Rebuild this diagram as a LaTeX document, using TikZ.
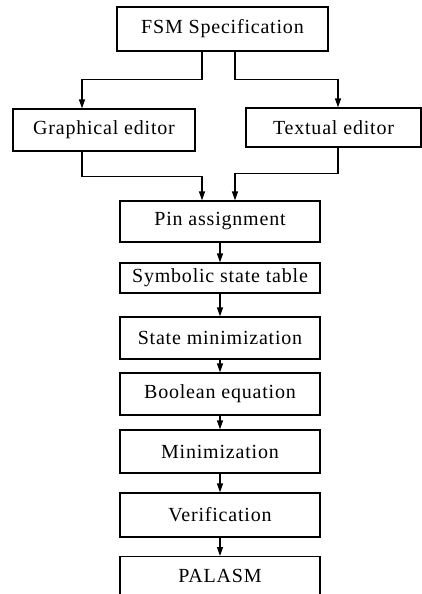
\documentclass[tikz,border=0pt]{standalone}
\usepackage{fontspec}
\setmainfont{Liberation Serif}[LetterSpace=4]
\usetikzlibrary{arrows.meta}
\begin{document}
\begin{tikzpicture}[x=1pt,y=-1pt,
  box/.style={draw,line width=1.3pt,inner sep=0pt,font=\fontsize{20}{24}\selectfont},
  arr/.style={line width=1.3pt,-{Triangle[length=9pt,width=6pt]}},
  ln/.style={line width=1.3pt}]
\useasboundingbox (0,0) rectangle (422,594);
\clip (0,0) rectangle (422,594);
\fill[white] (0,0) rectangle (422,594);
\node[box,minimum width=211pt,minimum height=44pt] (fsm) at (222.5,29) {FSM Specification};
\node[box,minimum width=182pt,minimum height=42pt] (ge) at (104,130) {Graphical editor};
\node[box,minimum width=175pt,minimum height=39pt] (te) at (333.5,127.5) {Textual editor};
\node[box,minimum width=200pt,minimum height=41pt] (pin) at (220,221.5) {Pin assignment};
\node[box,minimum width=200pt,minimum height=30pt] (sym) at (220,278) {Symbolic state table};
\node[box,minimum width=200pt,minimum height=42pt] (smin) at (220,338) {State minimization};
\node[box,minimum width=200pt,minimum height=42pt] (bool) at (220,394) {Boolean equation};
\node[box,minimum width=200pt,minimum height=43pt] (mini) at (220,451.5) {Minimization};
\node[box,minimum width=200pt,minimum height=44pt] (ver) at (220,515) {Verification};
\node[box,minimum width=200pt,minimum height=58pt,anchor=north] (pal) at (220,556) {};
\node[font=\fontsize{20}{24}\selectfont] (paltext) at (220,576) {PALASM};
\draw[arr] ([xshift=-20.5pt]fsm.south) -- ++(0,28) -| ([xshift=-22pt]ge.north);
\draw[arr] ([xshift=12.5pt]fsm.south) -- ++(0,28) -| ([xshift=4.5pt]te.north);
\draw[arr] ([xshift=-22pt]ge.south) -- ++(0,25) -| ([xshift=-18pt]pin.north);
\draw[arr] ([xshift=4.5pt]te.south) -- ++(0,26) -| ([xshift=15pt]pin.north);
\draw[arr] (pin) -- (sym);
\draw[arr] (sym) -- (smin);
\draw[arr] (smin) -- (bool);
\draw[arr] (bool) -- (mini);
\draw[arr] (mini) -- (ver);
\draw[arr] (ver.south) -- (pal.north);
\end{tikzpicture}
\end{document}
